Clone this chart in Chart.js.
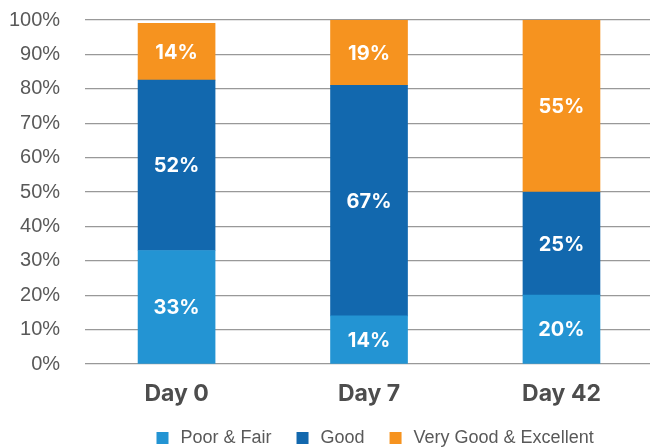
<!DOCTYPE html>
<html lang="en">
<head>
<meta charset="UTF-8">
<title>Self-rated health by visit</title>
<script src="https://cdn.jsdelivr.net/npm/chart.js"></script>
<style>
  html, body { margin: 0; padding: 0; background: #fff; }
  #wrap { position: relative; width: 650px; height: 448px; }
</style>
</head>
<body>
<div id="wrap"><canvas id="chart"></canvas></div>
<script>
const categories = ['Day 0', 'Day 7', 'Day 42'];
const seriesNames = ['Poor & Fair', 'Good', 'Very Good & Excellent'];
const seriesColors = ['#2394d3', '#1268ae', '#f6931f'];

// segment heights as they are drawn in the source (the printed % don't always match them)
const poorFair = [33, 14, 20];
const good = [49.5, 67, 30];
const veryGood = [16.5, 19, 50];

// the text printed on each segment
const poorFairLabels = ['33%', '14%', '20%'];
const goodLabels = ['52%', '67%', '25%'];
const veryGoodLabels = ['14%', '19%', '55%'];

const yTickStep = 10;
const yMax = 100;

// write the percent text in the middle of every segment
const segmentLabels = {
  id: 'segmentLabels',
  afterDatasetsDraw(chart) {
    const ctx = chart.ctx;
    ctx.save();
    ctx.fillStyle = '#ffffff';
    ctx.font = '700 20px Inter';
    ctx.textAlign = 'center';
    ctx.textBaseline = 'middle';
    chart.data.datasets.forEach((ds, i) => {
      chart.getDatasetMeta(i).data.forEach((bar, j) => {
        const p = bar.getProps(['x', 'y', 'base'], true);
        ctx.fillText(ds.valueLabels[j], p.x, (p.y + p.base) / 2 + 1);
      });
    });
    ctx.restore();
  }
};

// legend sits a little right of the plot centre in the original
const nudgeLegend = {
  id: 'nudgeLegend',
  afterLayout(chart) {
    chart.legend.left += 6;
    chart.legend.right += 6;
  }
};

function toPoints(values) {
  return values.map((v, i) => ({ x: i, y: v }));
}

const datasets = [
  { label: seriesNames[0], data: toPoints(poorFair), valueLabels: poorFairLabels, backgroundColor: seriesColors[0] },
  { label: seriesNames[1], data: toPoints(good), valueLabels: goodLabels, backgroundColor: seriesColors[1] },
  { label: seriesNames[2], data: toPoints(veryGood), valueLabels: veryGoodLabels, backgroundColor: seriesColors[2] }
];

new Chart(document.getElementById('chart'), {
  type: 'bar',
  data: { datasets: datasets },
  plugins: [segmentLabels, nudgeLegend],
  options: {
    responsive: true,
    maintainAspectRatio: false,
    animation: false,
    barThickness: 77,
    borderWidth: 0,
    layout: { padding: { left: 9, top: 20, right: 0, bottom: -9 } },
    plugins: {
      tooltip: { enabled: false },
      legend: {
        position: 'bottom',
        fullSize: false,
        labels: {
          usePointStyle: true,
          pointStyle: 'rect',
          boxWidth: 18,
          boxHeight: 12,
          padding: 22,
          color: '#595959',
          font: { family: 'Liberation Sans', size: 18 }
        }
      }
    },
    scales: {
      x: {
        type: 'linear',
        stacked: true,
        offset: false,
        min: -0.475,
        max: 2.46,
        afterBuildTicks: scale => { scale.ticks = categories.map((c, i) => ({ value: i })); },
        afterFit: scale => { scale.height = 43; },
        ticks: {
          callback: v => categories[v],
          color: '#4d4d4d',
          font: { family: 'Inter', size: 23, weight: '700' },
          padding: 8,
          maxRotation: 0
        },
        grid: { display: false },
        border: { display: false }
      },
      y: {
        stacked: true,
        min: 0,
        max: yMax,
        ticks: {
          stepSize: yTickStep,
          callback: v => v + '%',
          color: '#595959',
          font: { family: 'Liberation Sans', size: 20 },
          padding: 0
        },
        grid: { color: '#999999', lineWidth: 1.2, drawTicks: true, tickLength: 25, tickColor: 'rgba(0,0,0,0)' },
        border: { display: false }
      }
    }
  }
});
</script>
</body>
</html>
